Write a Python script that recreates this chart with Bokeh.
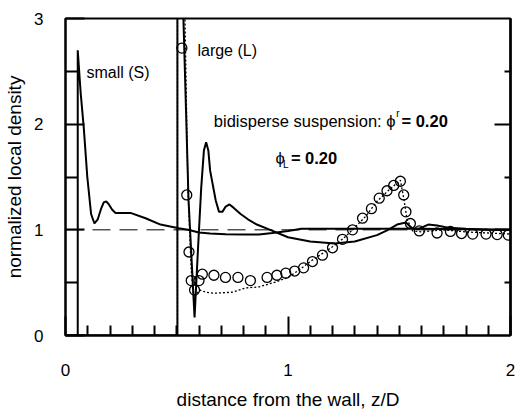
from bokeh.plotting import figure
from bokeh.models import LinearAxis, Label, Range1d, FixedTicker
from bokeh.embed import file_html
from bokeh.resources import INLINE

FONT = "Liberation Sans"

# small particles (S): normalized local density
small_x = [0.0, 0.055, 0.055, 0.068, 0.082, 0.098, 0.115, 0.13, 0.145, 0.16, 0.172, 0.183, 0.195,
           0.21, 0.225, 0.244, 0.292, 0.36, 0.427, 0.509, 0.55, 0.6, 0.65, 0.72, 0.8, 0.87, 0.93,
           1.0, 1.06, 1.2, 1.4, 1.6, 1.8, 2.0]
small_y = [0.0, 0.0, 2.70, 2.30, 1.97, 1.50, 1.15, 1.06, 1.10, 1.20, 1.26, 1.27, 1.24,
           1.19, 1.16, 1.16, 1.16, 1.11, 1.05, 1.015, 1.0, 0.975, 0.965, 0.958, 0.955, 0.955, 0.97,
           0.99, 1.01, 1.01, 1.01, 1.01, 1.005, 1.0]

# large particles (L): normalized local density
large_x = [0.0, 0.503, 0.503, 0.515, 0.53, 0.553, 0.58, 0.595, 0.61, 0.622, 0.632, 0.642, 0.65,
           0.675, 0.69, 0.705, 0.72, 0.737, 0.755, 0.787, 0.82, 0.86, 0.92, 1.0, 1.1, 1.21,
           1.3, 1.4, 1.45, 1.49, 1.53, 1.56, 1.59, 1.63, 1.67, 1.72, 1.8, 1.9, 2.0]
large_y = [0.0, 0.0, 6.0, 5.0, 3.0, 1.28, 0.17, 0.80, 1.40, 1.75, 1.83, 1.75, 1.56,
           1.28, 1.17, 1.17, 1.22, 1.24, 1.21, 1.15, 1.10, 1.05, 1.0, 0.93, 0.89, 0.87,
           0.89, 0.95, 1.0, 1.05, 1.07, 1.01, 1.01, 1.05, 1.04, 1.02, 1.01, 1.0, 1.0]

# theory for large particles (dotted)
theory_x = [0.503, 0.503, 0.52, 0.537, 0.55, 0.565, 0.575, 0.59, 0.605, 0.63, 0.67, 0.75, 0.81,
            0.87, 0.95, 1.0, 1.05, 1.1, 1.15, 1.2, 1.25, 1.3, 1.35, 1.4, 1.45, 1.505, 1.52,
            1.535, 1.56, 1.6, 1.7, 1.8, 1.9, 2.0]
theory_y = [0.0, 6.0, 4.5, 3.0, 1.40, 0.62, 0.38, 0.40, 0.43, 0.41, 0.40, 0.41, 0.45,
            0.46, 0.51, 0.55, 0.62, 0.70, 0.77, 0.84, 0.92, 1.02, 1.13, 1.27, 1.37, 1.47, 1.30,
            1.10, 0.99, 0.98, 1.0, 0.98, 0.97, 0.96]

# simulation points for large particles (circles)
sim_x = [0.523, 0.545, 0.555, 0.565, 0.58, 0.60, 0.615, 0.667, 0.719, 0.775, 0.831, 0.906,
         0.95, 0.99, 1.03, 1.07, 1.11, 1.155, 1.20, 1.245, 1.29, 1.335, 1.375, 1.41, 1.445,
         1.475, 1.505, 1.52, 1.53, 1.55, 1.59, 1.67, 1.73, 1.78, 1.83, 1.89, 1.94, 1.99]
sim_y = [2.72, 1.33, 0.79, 0.52, 0.43, 0.52, 0.58, 0.57, 0.55, 0.55, 0.52, 0.55,
         0.57, 0.59, 0.61, 0.64, 0.70, 0.76, 0.83, 0.91, 1.00, 1.11, 1.20, 1.30, 1.37,
         1.42, 1.46, 1.33, 1.17, 1.06, 0.99, 0.97, 0.985, 0.965, 0.96, 0.96, 0.955, 0.95]

# reference level
ref_x = [0.0, 2.0]
ref_y = [1.0, 1.0]

x_major = [0, 1, 2]
x_minor = [round(0.1 * i, 1) for i in range(1, 20) if i != 10]
y_major = [0, 1, 2, 3]
y_minor = [0.5, 1.5, 2.5]
right_long = [1, 2]

p = figure(width=517, height=415, x_range=Range1d(0, 2), y_range=Range1d(0, 3),
           output_backend="svg", toolbar_location=None,
           min_border_left=65, min_border_right=7, min_border_top=18, min_border_bottom=80)
p.grid.visible = False
p.outline_line_color = "black"
p.outline_line_width = 2
p.background_fill_color = "white"
p.border_fill_color = "white"

xa = p.xaxis[0]
xa.ticker = FixedTicker(ticks=x_major, minor_ticks=x_minor)
xa.major_tick_in = 19
xa.major_tick_out = 0
xa.minor_tick_in = 10
xa.minor_tick_out = 0
xa.major_tick_line_width = 2
xa.minor_tick_line_width = 2
xa.axis_line_width = 2
xa.major_label_standoff = 28
xa.major_label_text_font = FONT
xa.major_label_text_font_size = "17px"
xa.major_label_text_color = "black"
xa.axis_label = "distance from the wall, z/D"
xa.axis_label_text_font = FONT
xa.axis_label_text_font_size = "19px"
xa.axis_label_text_font_style = "normal"
xa.axis_label_text_color = "black"
xa.axis_label_standoff = 10

ya = p.yaxis[0]
ya.ticker = FixedTicker(ticks=y_major, minor_ticks=y_minor)
ya.major_tick_in = 19
ya.major_tick_out = 0
ya.minor_tick_in = 12
ya.minor_tick_out = 0
ya.major_tick_line_width = 2
ya.minor_tick_line_width = 2
ya.axis_line_width = 2
ya.major_label_standoff = 22
ya.major_label_text_font = FONT
ya.major_label_text_font_size = "17px"
ya.major_label_text_color = "black"
ya.axis_label = "normalized local density"
ya.axis_label_text_font = FONT
ya.axis_label_text_font_size = "19px"
ya.axis_label_text_font_style = "normal"
ya.axis_label_text_color = "black"
ya.axis_label_standoff = 6

# right-hand ticks without labels (two label-free axes)
for minors, length in ((y_minor, 6), (right_long, 16)):
    ra = LinearAxis(ticker=FixedTicker(ticks=[], minor_ticks=minors))
    ra.major_tick_in = 0
    ra.major_tick_out = 0
    ra.minor_tick_in = length
    ra.minor_tick_out = 0
    ra.minor_tick_line_width = 2
    ra.axis_line_width = 2
    ra.major_label_standoff = 0
    ra.axis_label_standoff = 0
    p.add_layout(ra, "right")

p.line(ref_x, ref_y, line_color="black", line_width=1, line_dash="18 9")
p.line(theory_x, theory_y, line_color="black", line_width=1.3, line_dash="2 2")
p.line(small_x, small_y, line_color="black", line_width=2)
p.line(large_x, large_y, line_color="black", line_width=2)
p.scatter(sim_x, sim_y, marker="circle", size=10, fill_color=None, line_color="black", line_width=1.3)

def lab(x, y, text, size="16px", style="normal", align="left"):
    p.add_layout(Label(x=x, y=y, text=text, text_font=FONT, text_font_size=size,
                       text_font_style=style, text_color="black", text_align=align,
                       text_baseline="middle"))

lab(0.094, 2.49, "small (S)")
lab(0.593, 2.70, "large (L)")
lab(1.483, 2.03, "bidisperse suspension: \u03d5", size="16.5px", align="right")
lab(1.486, 2.10, "r", size="10px")
lab(1.51, 2.03, "= 0.20", size="16.5px", style="bold")
lab(0.944, 1.68, "\u03d5", size="16.5px")
lab(0.978, 1.62, "L", size="10px")
lab(1.013, 1.68, "= 0.20", size="16.5px", style="bold")

open("out.html", "w").write(file_html(p, INLINE))
